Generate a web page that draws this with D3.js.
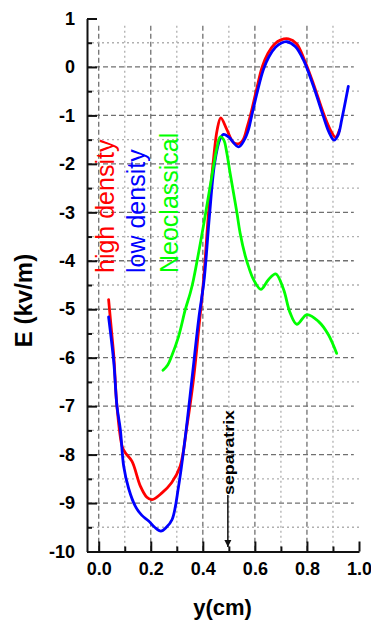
<!DOCTYPE html>
<html>
<head>
<meta charset="utf-8">
<script src="https://cdn.jsdelivr.net/npm/d3@7"></script>
<style>
  html, body { margin: 0; padding: 0; background: #fff; }
  svg { display: block; }
</style>
</head>
<body>
<svg id="chart" width="371" height="628"></svg>
<script>
// Electric field profiles across the edge, E (kV/m) vs y (cm)
const highDensityY = [0.038, 0.05, 0.058, 0.07, 0.09, 0.102, 0.128, 0.16, 0.185, 0.205, 0.243, 0.28, 0.313, 0.339, 0.364, 0.384, 0.403, 0.421, 0.441, 0.455, 0.469, 0.492, 0.518, 0.54, 0.555, 0.57, 0.583, 0.605, 0.628, 0.65, 0.675, 0.70, 0.729, 0.76, 0.79, 0.825, 0.863, 0.89, 0.91, 0.925];
const highDensityE = [-4.80, -5.5, -5.97, -7.0, -7.83, -7.96, -8.14, -8.65, -8.88, -8.93, -8.79, -8.58, -8.24, -7.41, -6.45, -5.42, -4.39, -3.08, -1.91, -1.3, -1.05, -1.29, -1.56, -1.58, -1.5, -1.25, -1.0, -0.5, 0.0, 0.28, 0.47, 0.56, 0.58, 0.48, 0.15, -0.35, -0.95, -1.3, -1.45, -1.3];

const lowDensityY = [0.038, 0.058, 0.07, 0.083, 0.096, 0.115, 0.141, 0.165, 0.192, 0.215, 0.239, 0.26, 0.282, 0.307, 0.333, 0.358, 0.384, 0.405, 0.425, 0.445, 0.465, 0.48, 0.5, 0.537, 0.56, 0.575, 0.588, 0.61, 0.633, 0.655, 0.68, 0.70, 0.723, 0.755, 0.786, 0.825, 0.863, 0.885, 0.904, 0.92, 0.934, 0.959];
const lowDensityE = [-5.16, -6.1, -7.0, -7.48, -8.24, -8.7, -9.07, -9.25, -9.37, -9.5, -9.58, -9.5, -9.34, -8.65, -7.62, -6.45, -5.21, -4.39, -3.1, -2.0, -1.5, -1.39, -1.45, -1.65, -1.5, -1.3, -1.0, -0.5, -0.05, 0.22, 0.41, 0.49, 0.52, 0.42, 0.15, -0.40, -1.02, -1.35, -1.51, -1.4, -1.08, -0.40];

const neoY = [0.247, 0.265, 0.28, 0.307, 0.333, 0.352, 0.364, 0.402, 0.441, 0.455, 0.467, 0.48, 0.492, 0.505, 0.518, 0.531, 0.543, 0.563, 0.575, 0.595, 0.623, 0.652, 0.68, 0.71, 0.735, 0.761, 0.8, 0.844, 0.882, 0.914];
const neoE = [-6.26, -6.15, -5.97, -5.56, -5.0, -4.66, -4.39, -3.29, -2.05, -1.65, -1.44, -1.5, -1.77, -2.2, -2.60, -3.01, -3.42, -3.90, -4.11, -4.39, -4.59, -4.39, -4.27, -4.59, -5.07, -5.31, -5.11, -5.25, -5.52, -5.91];

const xMajorTicks = [0, 0.2, 0.4, 0.6, 0.8, 1.0];
const xMinorTicks = [0.1, 0.3, 0.5, 0.7, 0.9];
const yMajorTicks = [1, 0, -1, -2, -3, -4, -5, -6, -7, -8, -9, -10];
const yMinorTicks = [0.5, -0.5, -1.5, -2.5, -3.5, -4.5, -5.5, -6.5, -7.5, -8.5, -9.5];

const seriesNames = ["high density", "low density", "Neoclassical"];
const seriesColors = ["#ff0000", "#0000ff", "#00ff00"];
const separatrixPos = 0.5;

const svg = d3.select("#chart");
const x = d3.scaleLinear().domain([-0.045, 1.0]).range([87, 359]);
const y = d3.scaleLinear().domain([-10, 1]).range([551.5, 18.5]);
const FONT = "'Liberation Sans', Arial, sans-serif";

// grid
const grid = svg.append("g");
const gridTop = 0.85;
grid.selectAll(".vmaj").data(xMajorTicks.filter(d => d < 1)).enter().append("line")
  .attr("x1", d => x(d)).attr("x2", d => x(d)).attr("y1", y(gridTop)).attr("y2", y(-10))
  .attr("stroke", "#707070").attr("stroke-width", 1.3).attr("stroke-dasharray", "5,3");
grid.selectAll(".vmin").data(xMinorTicks).enter().append("line")
  .attr("x1", d => x(d)).attr("x2", d => x(d)).attr("y1", y(gridTop)).attr("y2", y(-10))
  .attr("stroke", "#b0b0b0").attr("stroke-width", 1.3).attr("stroke-dasharray", "2,3");
grid.selectAll(".hmaj").data(yMajorTicks.filter(d => d < 1 && d > -10)).enter().append("line")
  .attr("x1", x.range()[0]).attr("x2", x(0.98)).attr("y1", d => y(d)).attr("y2", d => y(d))
  .attr("stroke", "#707070").attr("stroke-width", 1.3).attr("stroke-dasharray", "5,3");
grid.selectAll(".hmin").data(yMinorTicks).enter().append("line")
  .attr("x1", x.range()[0]).attr("x2", x(1.0)).attr("y1", d => y(d)).attr("y2", d => y(d))
  .attr("stroke", "#b0b0b0").attr("stroke-width", 1.3).attr("stroke-dasharray", "2,3");

// axes (ticks pointing into the plot)
function styleAxis(g) {
  g.select(".domain").attr("stroke", "#111").attr("stroke-width", 2);
  g.selectAll(".tick line").attr("stroke", "#111").attr("stroke-width", 2);
  g.selectAll("text").attr("font-family", FONT).attr("font-weight", "bold")
    .attr("font-size", 18).attr("fill", "#000");
}
const yAxis = svg.append("g").attr("transform", `translate(${x.range()[0]},0)`)
  .call(d3.axisLeft(y).tickValues(yMajorTicks).tickSizeInner(-10).tickSizeOuter(0)
    .tickPadding(12).tickFormat(d => String(d)));
styleAxis(yAxis);
const yAxisMinor = svg.append("g").attr("transform", `translate(${x.range()[0]},0)`)
  .call(d3.axisLeft(y).tickValues(yMinorTicks).tickSizeInner(-5).tickSizeOuter(0).tickFormat(""));
styleAxis(yAxisMinor);
yAxisMinor.select(".domain").remove();

const xAxis = svg.append("g").attr("transform", `translate(0,${y.range()[0]})`)
  .call(d3.axisBottom(x).tickValues(xMajorTicks).tickSizeInner(-10).tickSizeOuter(0)
    .tickPadding(11).tickFormat(d3.format(".1f")));
styleAxis(xAxis);
const xAxisMinor = svg.append("g").attr("transform", `translate(0,${y.range()[0]})`)
  .call(d3.axisBottom(x).tickValues(xMinorTicks).tickSizeInner(-5).tickSizeOuter(0).tickFormat(""));
styleAxis(xAxisMinor);
xAxisMinor.select(".domain").remove();

// axis titles
svg.append("text").attr("x", 222.5).attr("y", 615).attr("text-anchor", "middle")
  .attr("font-family", FONT).attr("font-weight", "bold").attr("font-size", 22)
  .attr("fill", "#000").text("y(cm)");
svg.append("text").attr("transform", "translate(32,300.5) rotate(-90)").attr("text-anchor", "middle")
  .attr("font-family", FONT).attr("font-weight", "bold").attr("font-size", 24)
  .attr("fill", "#000").text("E (kv/m)");

// curves
const line = d3.line().x(d => x(d[0])).y(d => y(d[1])).curve(d3.curveCatmullRom.alpha(0.5));
const series = [
  d3.zip(highDensityY, highDensityE),
  d3.zip(lowDensityY, lowDensityE),
  d3.zip(neoY, neoE)
];
svg.append("g").selectAll("path").data(series).enter().append("path")
  .attr("d", line).attr("fill", "none")
  .attr("stroke", (d, i) => seriesColors[i]).attr("stroke-width", 2.8)
  .attr("stroke-linejoin", "round").attr("stroke-linecap", "round");

// series labels
const labelBaselines = [114, 145, 178];
svg.append("g").selectAll("text").data(seriesNames).enter().append("text")
  .attr("transform", (d, i) => `translate(${labelBaselines[i]},273) rotate(-90)`)
  .attr("font-family", FONT).attr("font-size", 25)
  .attr("fill", (d, i) => seriesColors[i]).text(d => d);

// separatrix marker
const sx = x(separatrixPos) - 1;
svg.append("defs").append("marker").attr("id", "arrow")
  .attr("viewBox", "0 0 10 10").attr("refX", 10).attr("refY", 5)
  .attr("markerWidth", 7).attr("markerHeight", 8).attr("markerUnits", "userSpaceOnUse")
  .attr("orient", "auto")
  .append("path").attr("d", "M0,0 L10,5 L0,10 Z").attr("fill", "#111");
svg.append("line").attr("x1", sx).attr("x2", sx).attr("y1", 495).attr("y2", 547)
  .attr("stroke", "#111").attr("stroke-width", 1.5).attr("marker-end", "url(#arrow)");
svg.append("text").attr("transform", `translate(${sx + 6.5},495) rotate(-90)`)
  .attr("font-family", FONT).attr("font-weight", "bold").attr("font-size", 14)
  .attr("textLength", 85).attr("lengthAdjust", "spacingAndGlyphs")
  .attr("fill", "#000").text("separatrix");
</script>
</body>
</html>
